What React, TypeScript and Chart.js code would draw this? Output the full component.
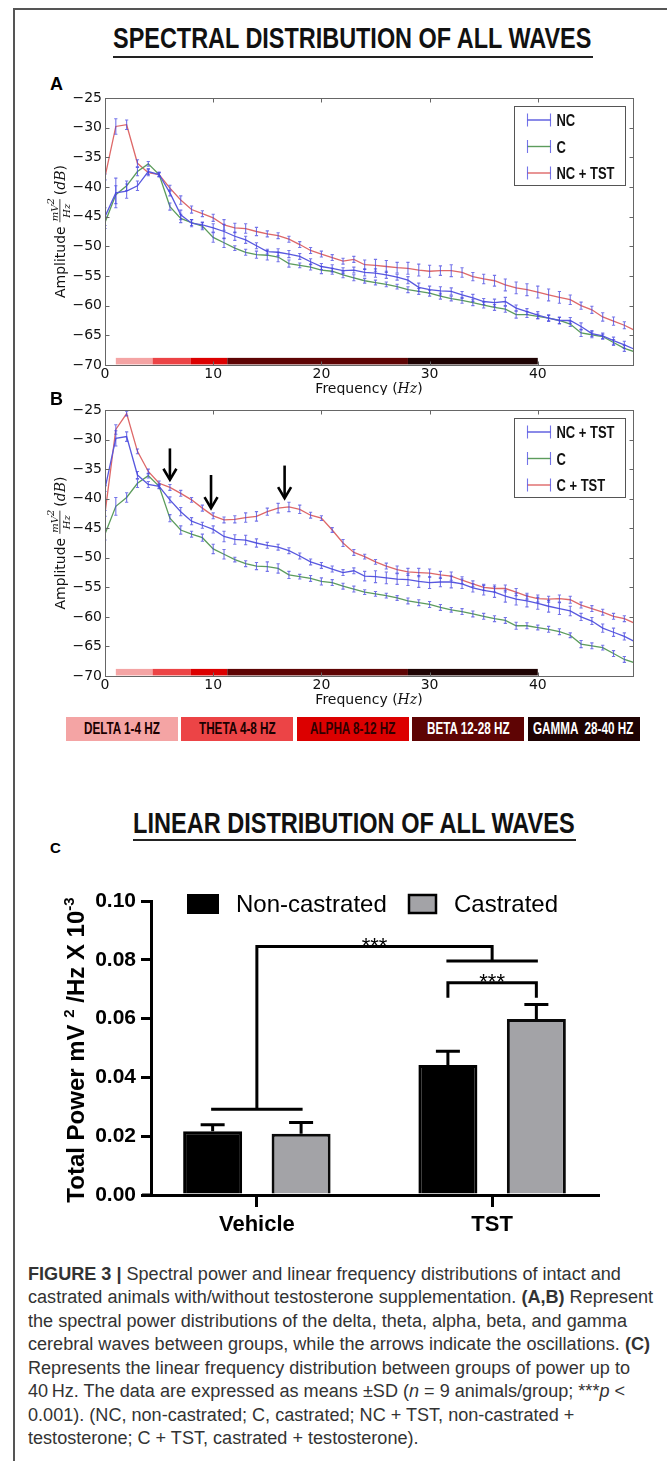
import React, { useEffect, useRef } from 'react';
import { Chart, registerables } from 'chart.js';

Chart.register(...registerables);

// ---------------- data ----------------
const freqHz = [0, 1, 2, 3, 4, 5, 6, 7, 8, 9, 10, 11, 12, 13, 14, 15, 16, 17, 18, 19, 20, 21, 22, 23, 24, 25, 26, 27, 28, 29, 30, 31, 32, 33, 34, 35, 36, 37, 38, 39, 40, 41, 42, 43, 44, 45, 46, 47, 48, 49];

// NC (non-castrated)
const ncDb = [-45, -41, -40.7, -39.8, -37.4, -37.9, -41, -44.7, -46.1, -46.4, -46.9, -47.5, -48.3, -48.9, -49.9, -50.9, -51, -51.3, -51.7, -52.6, -53.4, -53.7, -54.1, -54, -54.4, -54.5, -54.8, -55.2, -55.7, -56.9, -57.3, -57.5, -57.6, -58.2, -58.7, -59.3, -59.5, -59.3, -60.4, -61, -61.6, -62.1, -62.5, -62.5, -63.5, -64.7, -65.1, -65.9, -66.6, -67.4];
const ncErr = [1.5, 2.5, 1.2, 0.8, 0.5, 0.3, 0.5, 0.8, 0.6, 0.5, 0.7, 1.2, 0.7, 0.6, 0.5, 0.4, 0.6, 0.6, 0.5, 0.5, 0.5, 0.6, 0.5, 0.5, 0.6, 0.7, 0.6, 0.5, 0.6, 0.7, 0.6, 0.7, 0.6, 0.6, 0.6, 0.5, 0.6, 0.7, 0.5, 0.5, 0.6, 0.5, 0.6, 0.5, 0.6, 0.5, 0.5, 0.6, 0.6, 0.5];

// C (castrated)
const cDb = [-46, -41.3, -39.8, -37.4, -36.1, -37.9, -43.3, -45.3, -46, -46.6, -48.5, -49.4, -50.3, -51, -51.4, -51.5, -51.8, -52.9, -53.2, -53.5, -54, -54.2, -54.8, -55.3, -55.8, -56.1, -56.4, -56.8, -57.3, -57.6, -57.9, -58.4, -58.8, -59.1, -59.5, -59.9, -60.3, -60.6, -61.5, -61.5, -61.8, -62.1, -62.5, -63.1, -64.6, -64.9, -65.2, -66.2, -67.2, -67.8];
const cErr = [1, 1.5, 0.8, 0.7, 0.4, 0.3, 0.6, 0.7, 0.5, 0.6, 0.8, 0.8, 0.4, 0.5, 0.6, 0.8, 0.8, 0.6, 0.4, 0.5, 0.6, 0.5, 0.5, 0.5, 0.4, 0.4, 0.4, 0.4, 0.5, 0.5, 0.5, 0.5, 0.4, 0.5, 0.5, 0.5, 0.5, 0.5, 0.6, 0.5, 0.4, 0.5, 0.5, 0.4, 0.6, 0.5, 0.4, 0.5, 0.5, 0.4];

// NC + TST
const ncTstDb = [-38.3, -29.8, -29.5, -36, -37.6, -37.9, -40.2, -42.2, -43.8, -44.5, -45.2, -46.4, -46.9, -47, -47.5, -47.9, -48.2, -48.8, -49.7, -50.7, -51.3, -51.9, -52.5, -52.2, -53.1, -53.2, -53.4, -53.6, -53.7, -54, -54.2, -54.1, -54.1, -54.4, -55.1, -55.5, -55.8, -56.5, -57, -57.3, -57.7, -58.2, -58.6, -59, -60, -60.7, -61.9, -62.6, -63.3, -64.2];
const ncTstErr = [0.5, 1.3, 0.8, 0.6, 0.5, 0.4, 0.5, 0.7, 0.6, 0.5, 0.6, 0.9, 0.8, 0.8, 0.7, 0.5, 0.5, 0.5, 0.5, 0.5, 0.5, 0.5, 0.5, 0.5, 0.8, 1.0, 1.0, 0.9, 1.0, 1.0, 1.0, 0.8, 1.0, 0.8, 0.7, 0.8, 0.9, 1.0, 1.0, 1.0, 1.0, 1.0, 1.0, 0.8, 0.6, 0.6, 0.7, 0.7, 0.6, 0.6];

// C + TST
const cTstDb = [-42.5, -28.3, -25.6, -32, -35.4, -37.4, -38.1, -39.1, -40.2, -41.6, -42.9, -43.6, -43.5, -43.2, -43, -42.2, -41.6, -41.4, -41.8, -42.8, -43.3, -45.3, -47.5, -49.1, -49.8, -50.7, -51.4, -52, -52.4, -52.5, -52.6, -52.9, -53.1, -53.8, -54.4, -55, -55.2, -55.2, -55.8, -56.5, -56.9, -57, -56.9, -57.1, -58, -58.6, -59.2, -59.9, -60.3, -61.1];
const cTstErr = [0.5, 0.8, 0.4, 0.4, 0.4, 0.4, 0.5, 0.5, 0.4, 0.5, 0.5, 0.5, 0.6, 0.8, 0.8, 0.6, 0.8, 0.8, 0.7, 0.5, 0.4, 0.4, 0.6, 0.5, 0.4, 0.4, 0.5, 0.6, 0.6, 0.7, 0.7, 0.6, 0.7, 0.6, 0.5, 0.5, 0.6, 0.6, 0.6, 0.5, 0.6, 0.5, 0.6, 0.6, 0.5, 0.5, 0.5, 0.5, 0.5, 0.5];

const xTickHz = [0, 10, 20, 30, 40];
const yTickDb = [-70, -65, -60, -55, -50, -45, -40, -35, -30, -25];

const bandNames = ['DELTA 1-4 HZ', 'THETA 4-8 HZ', 'ALPHA 8-12 HZ', 'BETA 12-28 HZ', 'GAMMA  28-40 HZ'];
const bandStartHz = [1, 4.4, 7.9, 11.3, 28];
const bandEndHz = [4.4, 7.9, 11.3, 28, 40];
const bandTopDb = -68.8;
const bandBottomDb = -69.9;

const arrowHz = [6, 9.8, 16.6];
const arrowFromDb = [-31.5, -36, -34.4];
const arrowToDb = [-36.8, -41.6, -39.9];

const groups = ['Vehicle', 'TST'];
const groupPos = [1, 2];
const nonCastrated = [0.0217, 0.0442];
const nonCastratedSd = [0.0022, 0.0047];
const castrated = [0.0208, 0.0599];
const castratedSd = [0.0039, 0.0049];
const powerTicks = [0, 0.02, 0.04, 0.06, 0.08, 0.1];

const vehicleBracketY = 0.0292;
const outerBracketY = 0.0845;
const tstBracketY = 0.0796;
const innerBracketY = 0.0722;
const innerBracketFoot = 0.0671;

// ---------------- styles ----------------
const SANS = '"Liberation Sans", Arial, Helvetica, sans-serif';
const NARROW = '"Liberation Sans Narrow", "Liberation Sans", Arial, sans-serif';
const DEJAVU = '"DejaVu Sans", sans-serif';
const SERIF = '"DejaVu Serif", serif';

const BLUE = 'rgb(88,88,222)';
const GREEN = 'rgb(92,156,92)';
const RED = 'rgb(222,104,104)';
const ERR = 'rgba(70,70,225,0.75)';
const bandColors = ['#f4a4a4', '#ec4446', '#dc0000', '#5e0404', '#1e0303'];
const bandTextColors = ['#1a0000', '#1a0000', '#300000', '#ffffff', '#ffffff'];

type Run = { t: string; b?: boolean; i?: boolean };
const mctx = document.createElement('canvas').getContext('2d') as CanvasRenderingContext2D;
function runFont(r: Run, size: number, family: string) {
  return `${r.i ? 'italic ' : ''}${r.b ? 'bold ' : ''}${size}px ${family}`;
}
function runsWidth(runs: Run[], size: number, family: string) {
  let w = 0;
  for (const r of runs) {
    mctx.font = runFont(r, size, family);
    w += mctx.measureText(r.t).width;
  }
  return w;
}

function TextLine(props: {
  runs: Run[]; family: string; size: number; baseline: number; left?: number; center?: number;
  width?: number; scale?: number; color?: string;
}) {
  const { runs, family, size, baseline, left, center, width, scale, color } = props;
  const nat = runsWidth(runs, size, family);
  const k = width ? width / nat : scale ?? 1;
  const x = center !== undefined ? center - (nat * k) / 2 : left ?? 0;
  return (
    <div
      style={{
        position: 'absolute', left: x, top: baseline - 0.8465 * size, whiteSpace: 'pre',
        fontFamily: family, fontSize: size, lineHeight: `${size}px`, color: color ?? '#111',
        transform: `scaleX(${k})`, transformOrigin: '0 0',
      }}
    >
      {runs.map((r, i) => (
        <span key={i} style={{ fontWeight: r.b ? 'bold' : 'normal', fontStyle: r.i ? 'italic' : 'normal' }}>{r.t}</span>
      ))}
    </div>
  );
}

// ---------------- spectral charts ----------------
type Series = { label: string; values: number[]; errors: number[]; color: string };

const seriesA: Series[] = [
  { label: 'NC', values: ncDb, errors: ncErr, color: BLUE },
  { label: 'C', values: cDb, errors: cErr, color: GREEN },
  { label: 'NC + TST', values: ncTstDb, errors: ncTstErr, color: RED },
];
const seriesB: Series[] = [
  { label: 'NC + TST', values: ncTstDb, errors: ncTstErr, color: BLUE },
  { label: 'C', values: cDb, errors: cErr, color: GREEN },
  { label: 'C + TST', values: cTstDb, errors: cTstErr, color: RED },
];

const spectralPlugin = {
  id: 'spectral',
  afterDatasetsDraw(chart: any, _a: any, opts: any) {
    const { ctx, chartArea: ca } = chart;
    const x = chart.scales.x, y = chart.scales.y;
    ctx.save();
    ctx.beginPath();
    ctx.rect(ca.left, ca.top, ca.right - ca.left, ca.bottom - ca.top);
    ctx.clip();
    ctx.strokeStyle = ERR;
    ctx.lineWidth = 1.1;
    chart.data.datasets.forEach((ds: any) => {
      ds.data.forEach((p: any, i: number) => {
        const e = ds.errors[i];
        const px = x.getPixelForValue(p.x);
        const y1 = y.getPixelForValue(p.y + e);
        const y2 = y.getPixelForValue(p.y - e);
        ctx.beginPath();
        ctx.moveTo(px, y1); ctx.lineTo(px, y2);
        ctx.moveTo(px - 1.6, y1); ctx.lineTo(px + 1.6, y1);
        ctx.moveTo(px - 1.6, y2); ctx.lineTo(px + 1.6, y2);
        ctx.stroke();
      });
    });
    const yt = y.getPixelForValue(bandTopDb), yb = y.getPixelForValue(bandBottomDb);
    bandStartHz.forEach((s, i) => {
      const x1 = x.getPixelForValue(s), x2 = x.getPixelForValue(bandEndHz[i]);
      ctx.fillStyle = bandColors[i];
      ctx.fillRect(x1, yt, x2 - x1, yb - yt);
    });
    ctx.restore();

    if (opts.withArrows) {
      ctx.save();
      ctx.strokeStyle = '#000';
      ctx.lineWidth = 2.6;
      ctx.lineJoin = 'miter';
      arrowHz.forEach((hz, i) => {
        const px = x.getPixelForValue(hz);
        const y1 = y.getPixelForValue(arrowFromDb[i]);
        const y2 = y.getPixelForValue(arrowToDb[i]);
        ctx.beginPath();
        ctx.moveTo(px, y1); ctx.lineTo(px, y2 - 1);
        ctx.stroke();
        ctx.beginPath();
        ctx.moveTo(px - 6.5, y2 - 11); ctx.lineTo(px, y2); ctx.lineTo(px + 6.5, y2 - 11);
        ctx.stroke();
      });
      ctx.restore();
    }
  },
  afterDraw(chart: any, _a: any, opts: any) {
    const { ctx, chartArea: ca } = chart;
    const x = chart.scales.x, y = chart.scales.y;
    ctx.save();
    ctx.strokeStyle = '#666';
    ctx.lineWidth = 1;
    const L = Math.round(ca.left) + 0.5, T = Math.round(ca.top) + 0.5, R = Math.round(ca.right) + 0.5, B = Math.round(ca.bottom) + 0.5;
    ctx.strokeRect(L, T, R - L, B - T);
    ctx.beginPath();
    xTickHz.forEach((v) => {
      const px = Math.round(x.getPixelForValue(v)) + 0.5;
      ctx.moveTo(px, T); ctx.lineTo(px, T + 4);
      ctx.moveTo(px, B); ctx.lineTo(px, B - 4);
    });
    yTickDb.forEach((v) => {
      const py = Math.round(y.getPixelForValue(v)) + 0.5;
      ctx.moveTo(L, py); ctx.lineTo(L + 4, py);
      ctx.moveTo(R, py); ctx.lineTo(R - 4, py);
    });
    ctx.stroke();

    // legend
    const series: Series[] = opts.series;
    const bw = 111, bh = 79;
    const bx = Math.round(ca.right - 8 - bw) + 0.5, by = Math.round(ca.top + 8) + 0.5;
    ctx.fillStyle = '#fff';
    ctx.fillRect(bx, by, bw, bh);
    ctx.strokeStyle = '#555';
    ctx.strokeRect(bx, by, bw, bh);
    const lf = `bold 16px ${NARROW}`;
    ctx.font = lf;
    const k = 58 / ctx.measureText('NC + TST').width;
    series.forEach((s, i) => {
      const ly = by + 13.5 + i * 26.5;
      ctx.strokeStyle = s.color;
      ctx.lineWidth = 1.4;
      ctx.beginPath(); ctx.moveTo(bx + 13, ly); ctx.lineTo(bx + 36, ly); ctx.stroke();
      ctx.strokeStyle = ERR;
      ctx.lineWidth = 1.1;
      ctx.beginPath();
      ctx.moveTo(bx + 13, ly - 6.5); ctx.lineTo(bx + 13, ly + 6.5);
      ctx.moveTo(bx + 36, ly - 6.5); ctx.lineTo(bx + 36, ly + 6.5);
      ctx.stroke();
      ctx.save();
      ctx.fillStyle = '#111';
      ctx.font = lf;
      ctx.textBaseline = 'alphabetic';
      ctx.translate(bx + 42, ly + 6);
      ctx.scale(k, 1);
      ctx.fillText(s.label, 0, 0);
      ctx.restore();
    });

    // y axis title
    ctx.fillStyle = '#111';
    ctx.textBaseline = 'alphabetic';
    ctx.textAlign = 'left';
    const fMain = `14px ${DEJAVU}`, fFrac = `italic 10px ${SERIF}`, fSup = `italic 7px ${SERIF}`, fIt = `italic 14px ${SERIF}`;
    const mw = (t: string, f: string) => { ctx.font = f; return ctx.measureText(t).width; };
    const wA = mw('Amplitude', fMain);
    const wNum = mw('mV', fFrac) + mw('2', fSup);
    const wDen = mw('Hz', fFrac);
    const wF = Math.max(wNum, wDen) + 2;
    const wP = mw('(', fMain), wDB = mw('dB', fIt), wP2 = mw(')', fMain);
    const gap = 4;
    const total = wA + gap + wF + gap + wP + wDB + wP2;
    ctx.save();
    ctx.translate(ca.left - 45, (ca.top + ca.bottom) / 2);
    ctx.rotate(-Math.PI / 2);
    let cx = -total / 2;
    const bl = 5;
    ctx.font = fMain; ctx.fillText('Amplitude', cx, bl); cx += wA + gap;
    ctx.fillRect(cx, bl - 5.5, wF, 0.8);
    const nx = cx + (wF - wNum) / 2;
    ctx.font = fFrac; ctx.fillText('mV', nx, bl - 7.5);
    ctx.font = fSup; ctx.fillText('2', nx + mw('mV', fFrac), bl - 11.5);
    ctx.font = fFrac; ctx.fillText('Hz', cx + (wF - wDen) / 2, bl + 4.5);
    cx += wF + gap;
    ctx.font = fMain; ctx.fillText('(', cx, bl); cx += wP;
    ctx.font = fIt; ctx.fillText('dB', cx, bl); cx += wDB;
    ctx.font = fMain; ctx.fillText(')', cx, bl);
    ctx.restore();

    // x axis title
    const f14 = `14px ${DEJAVU}`, f14i = `italic 14px ${SERIF}`;
    const w1 = mw('Frequency (', f14), w2 = mw('Hz', f14i), w3 = mw(')', f14);
    let tx = (ca.left + ca.right) / 2 - (w1 + w2 + w3) / 2;
    const ty = ca.bottom + 28;
    ctx.font = f14; ctx.fillText('Frequency (', tx, ty); tx += w1;
    ctx.font = f14i; ctx.fillText('Hz', tx, ty); tx += w2;
    ctx.font = f14; ctx.fillText(')', tx, ty);
    ctx.restore();
  },
};

function spectralConfig(series: Series[], padTop: number, padBottom: number, withArrows: boolean): any {
  return {
    type: 'line',
    data: {
      datasets: series.map((s) => ({
        label: s.label,
        data: freqHz.map((f, i) => ({ x: f, y: s.values[i] })),
        errors: s.errors,
        borderColor: s.color,
        borderWidth: 1.3,
        pointRadius: 0,
        tension: 0,
        fill: false,
        clip: 0,
      })),
    },
    options: {
      animation: false,
      responsive: false,
      maintainAspectRatio: false,
      events: [],
      layout: { padding: { left: 55, right: 34, top: padTop, bottom: padBottom } },
      plugins: { legend: { display: false }, tooltip: { enabled: false }, spectral: { series, withArrows } },
      scales: {
        x: {
          type: 'linear', min: 0, max: 48.8,
          grid: { display: false, drawTicks: false }, border: { display: false },
          afterBuildTicks: (s: any) => { s.ticks = xTickHz.map((v) => ({ value: v })); },
          afterFit: (s: any) => { s.height = 22; },
          ticks: { color: '#111', padding: 1, maxRotation: 0, autoSkip: false, font: { family: DEJAVU, size: 14 }, callback: (v: any) => String(v) },
        },
        y: {
          type: 'linear', min: -70, max: -25,
          grid: { display: false, drawTicks: false }, border: { display: false },
          afterBuildTicks: (s: any) => { s.ticks = yTickDb.map((v) => ({ value: v })); },
          afterFit: (s: any) => { s.width = 50; },
          ticks: { color: '#111', padding: 3, autoSkip: false, font: { family: DEJAVU, size: 14 }, callback: (v: any) => (v < 0 ? '\u2212' + Math.abs(v) : String(v)) },
        },
      },
    },
    plugins: [spectralPlugin],
  };
}

// ---------------- bar chart ----------------
const barPlugin = {
  id: 'barExtras',
  afterDatasetsDraw(chart: any) {
    const { ctx } = chart;
    const x = chart.scales.x, y = chart.scales.y;
    const Y = (v: number) => y.getPixelForValue(v);
    ctx.save();
    ctx.strokeStyle = '#000';
    ctx.lineWidth = 3;
    ctx.lineCap = 'butt';
    chart.data.datasets.forEach((ds: any, di: number) => {
      const meta = chart.getDatasetMeta(di);
      meta.data.forEach((bar: any, i: number) => {
        const top = Y(ds.data[i].y + ds.errors[i]);
        ctx.beginPath();
        ctx.moveTo(bar.x, bar.y); ctx.lineTo(bar.x, top);
        ctx.moveTo(bar.x - 12, top); ctx.lineTo(bar.x + 12, top);
        ctx.stroke();
      });
    });
    const m0 = chart.getDatasetMeta(0).data, m1 = chart.getDatasetMeta(1).data;
    const g0 = x.getPixelForValue(groupPos[0]), g1 = x.getPixelForValue(groupPos[1]);
    ctx.beginPath();
    ctx.moveTo(m0[0].x - 1.5, Y(vehicleBracketY)); ctx.lineTo(m1[0].x + 1.5, Y(vehicleBracketY));
    ctx.moveTo(g0, Y(vehicleBracketY)); ctx.lineTo(g0, Y(outerBracketY)); ctx.lineTo(g1, Y(outerBracketY)); ctx.lineTo(g1, Y(tstBracketY));
    ctx.moveTo(m0[1].x - 1.5, Y(tstBracketY)); ctx.lineTo(m1[1].x + 1.5, Y(tstBracketY));
    ctx.stroke();
    ctx.beginPath();
    ctx.moveTo(m0[1].x, Y(innerBracketFoot)); ctx.lineTo(m0[1].x, Y(innerBracketY)); ctx.lineTo(m1[1].x, Y(innerBracketY)); ctx.lineTo(m1[1].x, Y(innerBracketFoot));
    ctx.stroke();
    ctx.fillStyle = '#000';
    ctx.font = `22px ${SANS}`;
    ctx.textAlign = 'center';
    ctx.textBaseline = 'alphabetic';
    ctx.fillText('***', (g0 + g1) / 2, Y(outerBracketY) + 6);
    ctx.fillText('***', (m0[1].x + m1[1].x) / 2, Y(innerBracketY) + 6);
    ctx.restore();
  },
  afterDraw(chart: any) {
    const { ctx, chartArea: ca } = chart;
    ctx.save();
    ctx.strokeStyle = '#000';
    ctx.lineWidth = 3;
    ctx.beginPath(); ctx.moveTo(ca.left - 9, ca.bottom); ctx.lineTo(ca.left, ca.bottom); ctx.stroke();
    // legend
    const ly = ca.top + 3;
    ctx.fillStyle = '#000';
    ctx.fillRect(ca.left + 36, ly - 10, 32, 20);
    ctx.font = `24px ${SANS}`;
    ctx.textBaseline = 'middle';
    ctx.textAlign = 'left';
    ctx.fillText('Non-castrated', ca.left + 85, ly + 1);
    ctx.fillStyle = '#a3a3a7';
    ctx.fillRect(ca.left + 258, ly - 9, 27, 18);
    ctx.lineWidth = 2.5;
    ctx.strokeRect(ca.left + 258, ly - 9, 27, 18);
    ctx.fillStyle = '#000';
    ctx.fillText('Castrated', ca.left + 303, ly + 1);
    // y title
    ctx.save();
    ctx.translate(ca.left - 76, (ca.top + ca.bottom) / 2 + 2);
    ctx.rotate(-Math.PI / 2);
    const fb = `bold 24px ${SANS}`, fs = `bold 15px ${SANS}`;
    const parts: [string, string, number][] = [
      ['Total Power mV ', fb, 0], ['2', fs, -10], [' /Hz X 10', fb, 0], ['-3', fs, -10],
    ];
    let total = 0;
    parts.forEach((p) => { ctx.font = p[1]; total += ctx.measureText(p[0]).width; });
    let cx = -total / 2;
    ctx.textBaseline = 'alphabetic';
    parts.forEach((p) => {
      ctx.font = p[1];
      ctx.fillText(p[0], cx, 9 + p[2]);
      cx += ctx.measureText(p[0]).width;
    });
    ctx.restore();
    ctx.restore();
  },
};

function barConfig(): any {
  return {
    type: 'bar',
    data: {
      datasets: [
        {
          label: 'Non-castrated',
          data: groupPos.map((g, i) => ({ x: g, y: nonCastrated[i] })),
          errors: nonCastratedSd,
          backgroundColor: '#000', borderColor: '#000', borderWidth: 3,
          categoryPercentage: 0.752, barPercentage: 0.667,
        },
        {
          label: 'Castrated',
          data: groupPos.map((g, i) => ({ x: g, y: castrated[i] })),
          errors: castratedSd,
          backgroundColor: '#a3a3a7', borderColor: '#0a0a0a', borderWidth: 3,
          categoryPercentage: 0.752, barPercentage: 0.667,
        },
      ],
    },
    options: {
      animation: false,
      responsive: false,
      maintainAspectRatio: false,
      events: [],
      layout: { padding: { left: 71, right: 69, top: 41, bottom: 15 } },
      plugins: { legend: { display: false }, tooltip: { enabled: false } },
      scales: {
        x: {
          type: 'linear', min: 0.55, max: 2.45, offset: false,
          grid: { display: true, offset: false, drawOnChartArea: false, drawTicks: true, tickLength: 12, lineWidth: 3, color: '#000' },
          border: { display: true, width: 3, color: '#000' },
          afterBuildTicks: (s: any) => { s.ticks = groupPos.map((v) => ({ value: v })); },
          afterFit: (s: any) => { s.height = 50; },
          ticks: {
            padding: 5, color: '#000', autoSkip: false, maxRotation: 0,
            font: { family: SANS, size: 22, weight: 'bold' },
            callback: (v: any) => groups[groupPos.indexOf(v)] ?? '',
          },
        },
        y: {
          type: 'linear', min: 0, max: 0.1,
          grid: { display: true, drawOnChartArea: false, drawTicks: true, tickLength: 10, lineWidth: 3, color: '#000' },
          border: { display: true, width: 3, color: '#000' },
          afterBuildTicks: (s: any) => { s.ticks = powerTicks.map((v) => ({ value: v })); },
          afterFit: (s: any) => { s.width = 80; },
          ticks: {
            padding: 5, color: '#000', autoSkip: false,
            font: { family: SANS, size: 21, weight: 'bold' },
            callback: (v: any) => Number(v).toFixed(2),
          },
        },
      },
    },
    plugins: [barPlugin],
  };
}

function ChartCanvas(props: { top: number; height: number; make: () => any }) {
  const ref = useRef<HTMLCanvasElement>(null);
  useEffect(() => {
    const chart = new Chart(ref.current as HTMLCanvasElement, props.make());
    return () => chart.destroy();
  }, []);
  return (
    <canvas
      ref={ref}
      width={667}
      height={props.height}
      style={{ position: 'absolute', left: 0, top: props.top, width: 667, height: props.height }}
    />
  );
}

// ---------------- caption ----------------
const captionLines: Run[][] = [
  [{ t: 'FIGURE 3 | ', b: true }, { t: 'Spectral power and linear frequency distributions of intact and' }],
  [{ t: 'castrated animals with/without testosterone supplementation. ' }, { t: '(A,B)', b: true }, { t: ' Represent' }],
  [{ t: 'the spectral power distributions of the delta, theta, alpha, beta, and gamma' }],
  [{ t: 'cerebral waves between groups, while the arrows indicate the oscillations. ' }, { t: '(C)', b: true }],
  [{ t: 'Represents the linear frequency distribution between groups of power up to' }],
  [{ t: '40\u2009Hz. The data are expressed as means \u00b1SD (' }, { t: 'n', i: true }, { t: ' = 9 animals/group; ***' }, { t: 'p', i: true }, { t: ' <' }],
  [{ t: '0.001). (NC, non-castrated; C, castrated; NC + TST, non-castrated +' }],
  [{ t: 'testosterone; C + TST, castrated + testosterone).' }],
];

export default function App() {
  const kBand = 83 / runsWidth([{ t: 'BETA 12-28 HZ', b: true }], 16, NARROW);
  const kCap = 625 / runsWidth(captionLines[1], 18, SANS);
  return (
    <div style={{ position: 'absolute', left: 0, top: 0, width: 667, height: 1461, background: '#fff', overflow: 'hidden' }}>
      <div style={{ position: 'absolute', left: 13, top: 8, width: 1.5, height: 1453, background: '#555' }} />
      <div style={{ position: 'absolute', left: 13, top: 8, width: 654, height: 1.5, background: '#555' }} />

      <TextLine runs={[{ t: 'SPECTRAL DISTRIBUTION OF ALL WAVES', b: true }]} family={NARROW} size={29} left={113} baseline={49} width={480} color="#111" />
      <div style={{ position: 'absolute', left: 113, top: 56, width: 480, height: 2, background: '#222' }} />

      <TextLine runs={[{ t: 'A', b: true }]} family={SANS} size={18} left={50} baseline={90} color="#000" />
      <ChartCanvas top={60} height={335} make={() => spectralConfig(seriesA, 38, 8, false)} />

      <TextLine runs={[{ t: 'B', b: true }]} family={SANS} size={18} left={50} baseline={405} color="#000" />
      <ChartCanvas top={395} height={317} make={() => spectralConfig(seriesB, 15, 14, true)} />

      {bandNames.map((name, i) => {
        const left = 66 + i * 115.4;
        return (
          <React.Fragment key={name}>
            <div style={{ position: 'absolute', left, top: 717, width: 112, height: 24, background: bandColors[i] }} />
            <TextLine runs={[{ t: name, b: true }]} family={NARROW} size={16} center={left + 56} baseline={735} scale={kBand} color={bandTextColors[i]} />
          </React.Fragment>
        );
      })}

      <TextLine runs={[{ t: 'LINEAR DISTRIBUTION OF ALL WAVES', b: true }]} family={NARROW} size={29} left={133} baseline={834} width={443} color="#111" />
      <div style={{ position: 'absolute', left: 133, top: 839, width: 443, height: 2, background: '#222' }} />

      <TextLine runs={[{ t: 'C', b: true }]} family={SANS} size={15} left={50} baseline={853} color="#000" />
      <ChartCanvas top={860} height={400} make={barConfig} />

      {captionLines.map((runs, i) => (
        <TextLine key={i} runs={runs} family={SANS} size={18} left={28} baseline={1280 + i * 23.5} scale={kCap} color="#333" />
      ))}
    </div>
  );
}
